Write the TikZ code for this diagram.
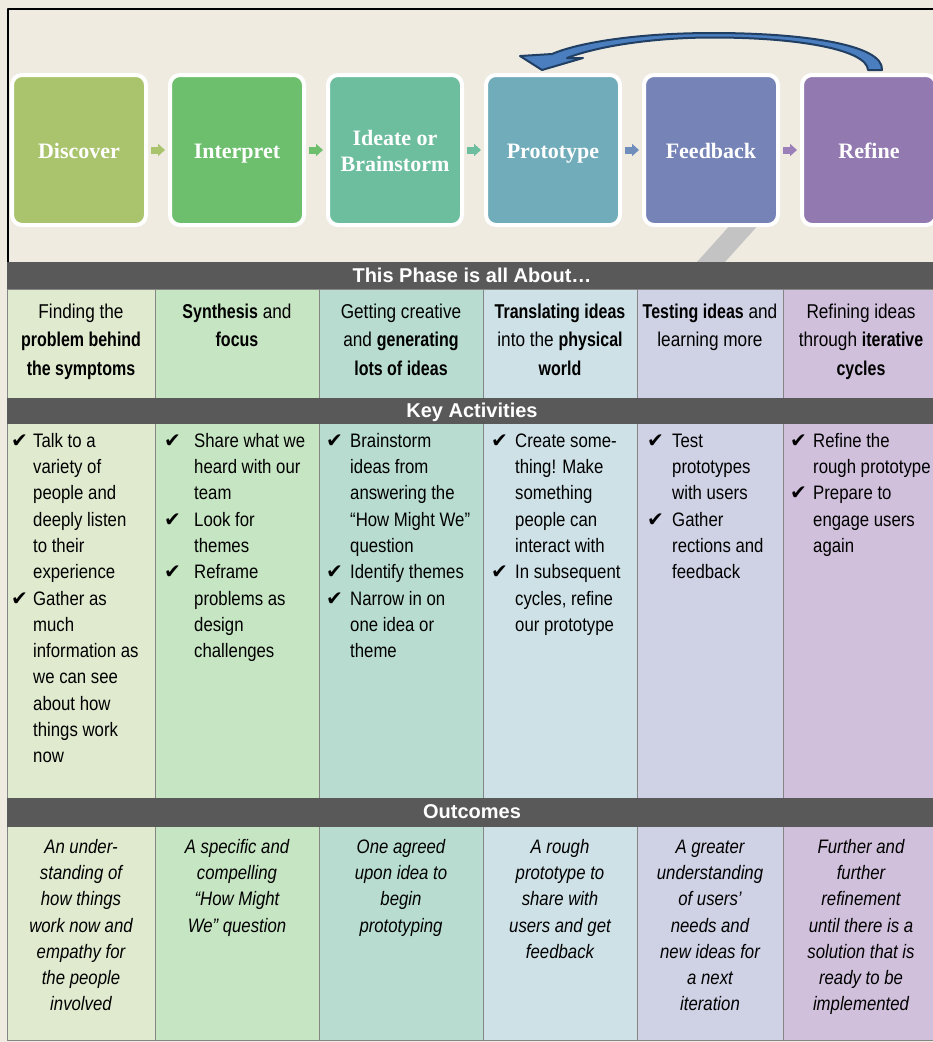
\documentclass[tikz,border=0pt]{standalone}
\usepackage{fontspec}
\setmainfont{Liberation Sans}[FakeStretch=0.86,BoldFeatures={FakeStretch=0.80}]
\newfontfamily\barfont{Liberation Sans}
\newfontfamily\boxfont{Liberation Serif}
\newfontfamily\checkfont{DejaVu Sans}
\usetikzlibrary{arrows.meta,calc}

\definecolor{paper}{HTML}{EFEBE1}
\definecolor{bardark}{HTML}{595959}
\definecolor{gridgray}{HTML}{858585}
\definecolor{discoverC}{HTML}{AAC46E}
\definecolor{interpretC}{HTML}{6DBF6E}
\definecolor{ideateC}{HTML}{6DBD9F}
\definecolor{prototypeC}{HTML}{71ACBA}
\definecolor{feedbackC}{HTML}{7683B7}
\definecolor{refineC}{HTML}{927AB1}
\definecolor{toFeedback}{HTML}{6F8EBB}
\definecolor{toRefine}{HTML}{9A7FB8}
\definecolor{cellA}{HTML}{E0EACF}
\definecolor{cellB}{HTML}{C6E5C2}
\definecolor{cellC}{HTML}{B8DDD0}
\definecolor{cellD}{HTML}{CEE1E7}
\definecolor{cellE}{HTML}{CFD1E4}
\definecolor{cellF}{HTML}{D0C0DC}
\definecolor{loopfill}{HTML}{4A7EBF}
\definecolor{loopline}{HTML}{213F63}
\definecolor{pointer}{HTML}{C3C3C3}

\newcommand\chk[1]{\makebox[#1][l]{\checkfont\fontsize{20}{20}\selectfont ✔}}

\begin{document}
\begin{tikzpicture}[x=1pt,y=-1pt,line join=round,
	phase/.style={draw=white,line width=4pt,rounded corners=10pt,fill=#1,
		minimum width=134pt,minimum height=150pt,inner sep=0pt,text=white,
		text height=20pt,text depth=3pt,
		font=\boxfont\bfseries\fontsize{22}{26.5}\selectfont},
	link/.style={color=#1,line width=7pt,-{Triangle[width=12pt,length=7pt]},
		shorten <=3pt,shorten >=3pt},
	bartext/.style={text=white,anchor=base,inner sep=0pt,
		font=\barfont\bfseries\fontsize{20}{20}\selectfont},
	about/.style={anchor=north,inner sep=0pt,font=\fontsize{20}{28.5}\selectfont},
	acts/.style={anchor=north west,inner sep=0pt,font=\fontsize{19.5}{26.3}\selectfont},
	result/.style={anchor=north,inner sep=0pt,font=\itshape\fontsize{19.5}{26.3}\selectfont}]
	%==Phần thông số
	\def\ya{298}
	\def\yb{428.6}
	\def\yc{834.5}
	%==============
	\fill[paper] (0,0) rectangle (933,1042);
	\useasboundingbox (0,0) rectangle (933,1042);
	\draw[line width=1.2pt] (8,262)--(8,9)--(933,9);
	\fill[pointer] (733,222)--(761,222)--(725,262)--(697,262)--cycle;
	%==Các bước
	\node[phase=discoverC] (discover) at (79,150) {Discover};
	\node[phase=interpretC] (interpret) at (237,150) {Interpret};
	\node[phase=ideateC] (ideate) at (395,150) {\begin{tabular}{@{}c@{}}Ideate or\\Brainstorm\end{tabular}};
	\node[phase=prototypeC] (prototype) at (553,150) {Prototype};
	\node[phase=feedbackC] (feedback) at (711,150) {Feedback};
	\node[phase=refineC] (refine) at (869,150) {Refine};
	\draw[link=discoverC] (discover.east)--(interpret.west);
	\draw[link=interpretC] (interpret.east)--(ideate.west);
	\draw[link=ideateC] (ideate.east)--(prototype.west);
	\draw[link=toFeedback] (prototype.east)--(feedback.west);
	\draw[link=toRefine] (feedback.east)--(refine.west);
	%==Mũi tên quay lại
	\filldraw[fill=loopfill,draw=loopline,line width=2pt]
	($(refine.north)+(13,-3)$) .. controls (884,44) and (800,33) .. (713,33)
	.. controls (640,33) and (580,42) .. (552,54) -- (520,56)
	-- ($(prototype.north)+(-11,-3)$) -- (583,58) -- (567,58)
	.. controls (595,47) and (650,37.5) .. (713,37.5)
	.. controls (800,37.5) and (867,50) .. ($(refine.north)+(-1,-3)$) -- cycle;
	%==Bảng
	\foreach \xa/\xb/\c in {7/155/cellA,155/319/cellB,319/483/cellC,483/637/cellD,637/783/cellE,783/945/cellF}{
		\fill[\c] (\xa,289) rectangle (\xb,1040);
		\draw[gridgray,line width=0.8pt] (\xa,289) rectangle (\xb,1040);
	}
	\fill[bardark] (7,262) rectangle (945,289);
	\fill[bardark] (7,398) rectangle (945,424);
	\fill[bardark] (7,798) rectangle (945,827);
	\node[bartext] (aboutbar) at (472,282) {This Phase is all About…};
	\node[bartext] (actbar) at (472,417) {Key Activities};
	\node[bartext] (outbar) at (472,818) {Outcomes};
	%==This Phase is all About
	\node[about] (aboutA) at (81,\ya) {\begin{tabular}{@{}c@{}}Finding the\\ \textbf{problem behind}\\ \textbf{the symptoms}\end{tabular}};
	\node[about] (aboutB) at (237,\ya) {\begin{tabular}{@{}c@{}}\textbf{Synthesis} and\\ \textbf{focus}\end{tabular}};
	\node[about] (aboutC) at (401,\ya) {\begin{tabular}{@{}c@{}}Getting creative\\ and \textbf{generating}\\ \textbf{lots of ideas}\end{tabular}};
	\node[about] (aboutD) at (560,\ya) {\begin{tabular}{@{}c@{}}\textbf{Translating ideas}\\ into the \textbf{physical}\\ \textbf{world}\end{tabular}};
	\node[about] (aboutE) at (710,\ya) {\begin{tabular}{@{}c@{}}\textbf{Testing ideas} and\\ learning more\end{tabular}};
	\node[about] (aboutF) at (861,\ya) {\begin{tabular}{@{}c@{}}Refining ideas\\ through \textbf{iterative}\\ \textbf{cycles}\end{tabular}};
	%==Key Activities
	\node[acts] (actA) at (11,\yb) {\begin{tabular}{@{}l@{}l@{}}
		\chk{22pt} & Talk to a\\ & variety of\\ & people and\\ & deeply listen\\ & to their\\ & experience\\
		\chk{22pt} & Gather as\\ & much\\ & information as\\ & we can see\\ & about how\\ & things work\\ & now\end{tabular}};
	\node[acts] (actB) at (164,\yb) {\begin{tabular}{@{}l@{}l@{}}
		\chk{30pt} & Share what we\\ & heard with our\\ & team\\
		\chk{30pt} & Look for\\ & themes\\
		\chk{30pt} & Reframe\\ & problems as\\ & design\\ & challenges\end{tabular}};
	\node[acts] (actC) at (326,\yb) {\begin{tabular}{@{}l@{}l@{}}
		\chk{24pt} & Brainstorm\\ & ideas from\\ & answering the\\ & “How Might We”\\ & question\\
		\chk{24pt} & Identify themes\\
		\chk{24pt} & Narrow in on\\ & one idea or\\ & theme\end{tabular}};
	\node[acts] (actD) at (491,\yb) {\begin{tabular}{@{}l@{}l@{}}
		\chk{24pt} & Create some-\\ & thing! Make\\ & something\\ & people can\\ & interact with\\
		\chk{24pt} & In subsequent\\ & cycles, refine\\ & our prototype\end{tabular}};
	\node[acts] (actE) at (647,\yb) {\begin{tabular}{@{}l@{}l@{}}
		\chk{25pt} & Test\\ & prototypes\\ & with users\\
		\chk{25pt} & Gather\\ & rections and\\ & feedback\end{tabular}};
	\node[acts] (actF) at (790,\yb) {\begin{tabular}{@{}l@{}l@{}}
		\chk{23pt} & Refine the\\ & rough prototype\\
		\chk{23pt} & Prepare to\\ & engage users\\ & again\end{tabular}};
	%==Outcomes
	\node[result] (outA) at (81,\yc) {\begin{tabular}{@{}c@{}}An under-\\ standing of\\ how things\\ work now and\\ empathy for\\ the people\\ involved\end{tabular}};
	\node[result] (outB) at (237,\yc) {\begin{tabular}{@{}c@{}}A specific and\\ compelling\\ “How Might\\ We” question\end{tabular}};
	\node[result] (outC) at (401,\yc) {\begin{tabular}{@{}c@{}}One agreed\\ upon idea to\\ begin\\ prototyping\end{tabular}};
	\node[result] (outD) at (560,\yc) {\begin{tabular}{@{}c@{}}A rough\\ prototype to\\ share with\\ users and get\\ feedback\end{tabular}};
	\node[result] (outE) at (710,\yc) {\begin{tabular}{@{}c@{}}A greater\\ understanding\\ of users’\\ needs and\\ new ideas for\\ a next\\ iteration\end{tabular}};
	\node[result] (outF) at (861,\yc) {\begin{tabular}{@{}c@{}}Further and\\ further\\ refinement\\ until there is a\\ solution that is\\ ready to be\\ implemented\end{tabular}};
\end{tikzpicture}
\end{document}
